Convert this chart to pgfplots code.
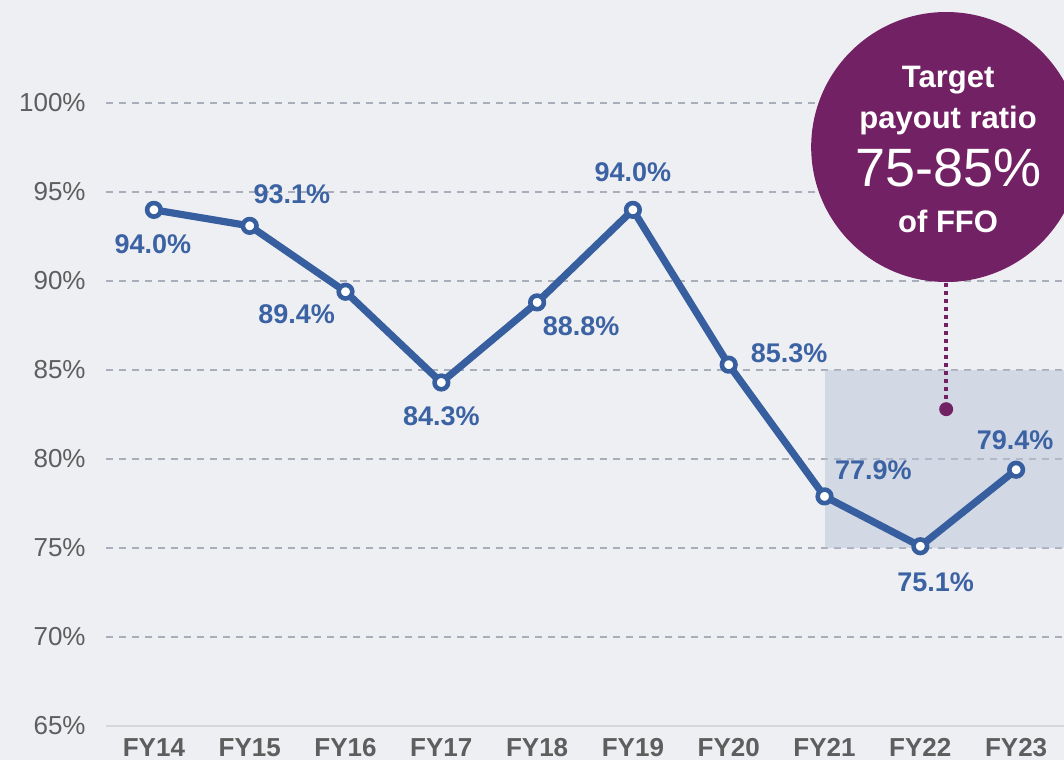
\documentclass[border=0pt]{standalone}
\usepackage{fontspec}
\setmainfont{Liberation Sans}
\usepackage{pgfplots}
\pgfplotsset{compat=1.18}
\definecolor{bg}{HTML}{EEEFF3}
\definecolor{lineblue}{HTML}{375F9F}
\definecolor{lblblue}{HTML}{3B62A3}
\definecolor{purp}{HTML}{722164}
\definecolor{bandc}{HTML}{B8C5D9}
\definecolor{gridc}{HTML}{A9AEBB}
\definecolor{tickc}{HTML}{5E5E5E}
\definecolor{axc}{HTML}{D5D7DB}
\begin{document}
\begin{tikzpicture}
\fill[bg] (0,0) rectangle (532pt,380pt);
\begin{axis}[
  at={(53pt,17pt)}, anchor=south west,
  scale only axis, width=479pt, height=363pt,
  xmin=-0.5, xmax=9.5, ymin=65, ymax=105.79,
  clip=false,
  axis x line*=bottom, axis y line*=left,
  x axis line style={draw=axc, line width=1pt, -},
  y axis line style={draw=none},
  major tick length=0pt,
  xtick={0,...,9},
  xticklabels={FY14,FY15,FY16,FY17,FY18,FY19,FY20,FY21,FY22,FY23},
  xticklabel style={font=\bfseries\fontsize{13}{15}\selectfont, text=tickc, anchor=north, inner sep=0pt, yshift=-6pt},
  ytick={70,75,80,85,90,95,100,65},
  yticklabels={70\%,75\%,80\%,85\%,90\%,95\%,100\%,65\%},
  yticklabel style={font=\fontsize{13}{15}\selectfont, text=tickc, anchor=east, inner sep=0pt, xshift=-10pt},
  ymajorgrids,
  major grid style={draw=gridc, line width=1pt, dash pattern=on 3.5pt off 3pt},
]
\addplot[fill=bandc, fill opacity=0.5, draw=none] coordinates {(7,75)(9.6,75)(9.6,85)(7,85)} -- cycle;

\addplot[lineblue, line width=3.6pt, line join=round, mark=*, mark size=3.4pt,
  mark options={fill=white, draw=lineblue, line width=2.3pt}]
  coordinates {(0,94.0)(1,93.1)(2,89.4)(3,84.3)(4,88.8)(5,94.0)(6,85.3)(7,77.9)(8,75.1)(9,79.4)};

\draw[axc, line width=1pt] (axis cs:-0.5,65) -- (axis cs:9.6,65);

\tikzset{lbl/.style={font=\bfseries\fontsize{13.5}{16}\selectfont, text=lblblue, anchor=center, inner sep=0pt}}
\node[lbl] at (axis cs:-0.01,92.08) {94.0\%};
\node[lbl] at (axis cs:1.44,94.89) {93.1\%};
\node[lbl] at (axis cs:1.49,88.15) {89.4\%};
\node[lbl] at (axis cs:3.0,82.42) {84.3\%};
\node[lbl] at (axis cs:4.46,87.47) {88.8\%};
\node[lbl] at (axis cs:5.0,96.12) {94.0\%};
\node[lbl] at (axis cs:6.63,85.96) {85.3\%};
\node[lbl] at (axis cs:7.51,79.38) {77.9\%};
\node[lbl] at (axis cs:8.16,73.09) {75.1\%};
\node[lbl] at (axis cs:8.99,81.07) {79.4\%};

\draw[purp, line width=2pt, dash pattern=on 2pt off 2pt] (axis cs:8.27,89.9) -- (axis cs:8.27,83.2);
\fill[purp] (axis cs:8.27,82.8) circle[radius=3.5pt];
\fill[purp] (axis cs:8.27,97.53) circle[radius=67.5pt];
\node[font=\bfseries\fontsize{15.5}{18}\selectfont, text=white, inner sep=0pt] at ([yshift=33.5pt]axis cs:8.29,97.53) {Target};
\node[font=\bfseries\fontsize{15.5}{18}\selectfont, text=white, inner sep=0pt] at ([yshift=13.5pt]axis cs:8.29,97.53) {payout ratio};
\node[font=\fontsize{27}{30}\selectfont, text=white, inner sep=0pt] at ([yshift=-10.5pt]axis cs:8.29,97.53) {75-85\%};
\node[font=\bfseries\fontsize{15.5}{18}\selectfont, text=white, inner sep=0pt] at ([yshift=-37pt]axis cs:8.29,97.53) {of FFO};
\end{axis}
\pgfresetboundingbox
\path[use as bounding box] (0,0) rectangle (532pt,380pt);
\end{tikzpicture}
\end{document}
